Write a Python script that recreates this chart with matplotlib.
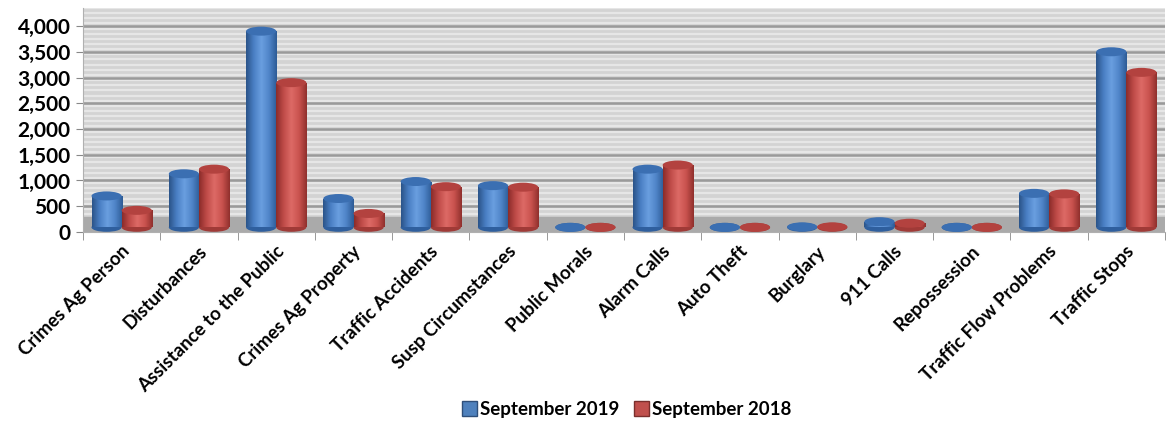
import numpy as np
import matplotlib
matplotlib.use("Agg")
import matplotlib.pyplot as plt
import matplotlib.transforms as mtransforms
from matplotlib.patches import Ellipse, Rectangle
from matplotlib.colors import LinearSegmentedColormap
from matplotlib.ticker import FuncFormatter

categories = ["Crimes Ag Person", "Disturbances", "Assistance to the Public",
              "Crimes Ag Property", "Traffic Accidents", "Susp Circumstances",
              "Public Morals", "Alarm Calls", "Auto Theft", "Burglary",
              "911 Calls", "Repossession", "Traffic Flow Problems", "Traffic Stops"]
sep_2019 = [700, 1130, 3900, 650, 980, 900, 90, 1220, 90, 100, 200, 60, 750, 3500]
sep_2018 = [420, 1220, 2900, 360, 880, 870, 80, 1300, 90, 100, 170, 50, 740, 3100]
series_names = ["September 2019", "September 2018"]
yticks = [0, 500, 1000, 1500, 2000, 2500, 3000, 3500, 4000]

plt.rcParams['font.family'] = ['Lato', 'DejaVu Sans']

fig = plt.figure(figsize=(11.69, 4.32), dpi=100)
ax = fig.add_axes([0.071, 0.463, 0.9256, 0.5185])

ymax = 4350
ax.set_xlim(0, len(categories))
ax.set_ylim(0, ymax)

# wall
ax.set_facecolor('#d3d3d3')
for v in np.arange(0, ymax, 100):
    ax.axhline(v + 50, color='#e6e6e6', lw=1.6, zorder=0.5)
for v in yticks:
    ax.axhline(v, color='#9a9a9a', lw=1.8, zorder=0.6)
# floor
ax.axhspan(0, 300, color='#aaaaaa', zorder=0.8)

px = ymax / (0.5185 * 432)  # data units per pixel (vertical)
ell_h = 9 * px
bw = 0.39

cmaps = {
    0: LinearSegmentedColormap.from_list('b', ['#2a5388', '#4a7fc4', '#6a9fe0', '#4f84c8', '#2c5b95']),
    1: LinearSegmentedColormap.from_list('r', ['#8a2b29', '#c04c49', '#dd6a66', '#c9524e', '#8f2f2c']),
}
tops = {0: '#3b6fb2', 1: '#b3423f'}
bots = {0: '#2f5f9e', 1: '#a03a37'}
grad = np.linspace(0, 1, 256).reshape(1, -1)

base = 90
for si, vals in enumerate([sep_2019, sep_2018]):
    for i, v in enumerate(vals):
        c = i + 0.5 + (si - 0.5) * bw
        x0 = c - bw / 2
        top = max(v, base)
        rect = Rectangle((x0, base), bw, top - base, facecolor='none', edgecolor='none', zorder=2)
        ax.add_patch(rect)
        im = ax.imshow(grad, extent=[x0, x0 + bw, base, top], aspect='auto',
                       cmap=cmaps[si], zorder=2, interpolation='bilinear')
        im.set_clip_path(rect)
        e_bot = Ellipse((c, base), bw, ell_h, facecolor=bots[si], edgecolor='none', zorder=1.9)
        ax.add_patch(e_bot)
        e_top = Ellipse((c, top), bw, ell_h, facecolor=tops[si], edgecolor='none', zorder=3)
        ax.add_patch(e_top)

ax.set_xlim(0, len(categories))
ax.set_ylim(0, ymax)

ax.set_yticks(yticks)
ax.yaxis.set_major_formatter(FuncFormatter(lambda v, p: f"{int(v):,}"))
ax.tick_params(axis='y', labelsize=15, length=5, color='#888888', pad=4)
for t in ax.get_yticklabels():
    t.set_fontweight('bold')

ax.set_xticks(np.arange(len(categories) + 1), minor=True)
ax.set_xticks(np.arange(len(categories)) + 0.5)
ax.set_xticklabels(categories, rotation=45, ha='right', va='center',
                   rotation_mode='anchor', fontsize=13.5, fontweight='bold')
ax.tick_params(axis='x', which='major', length=0, pad=12)
ax.tick_params(axis='x', which='minor', length=6, color='#888888')
shift = mtransforms.ScaledTranslation(5 / 100, 0, fig.dpi_scale_trans)
for t in ax.get_xticklabels():
    t.set_transform(t.get_transform() + shift)
ax.grid(False)

for s in ['top', 'right']:
    ax.spines[s].set_visible(False)
ax.spines['left'].set_color('#b0b0b0')
ax.spines['bottom'].set_color('#b0b0b0')

handles = [Rectangle((0, 0), 1, 1, facecolor='#4f81bd', edgecolor='#2f4f7a'),
           Rectangle((0, 0), 1, 1, facecolor='#c0504d', edgecolor='#7a2f2d')]
leg = fig.legend(handles, series_names, loc='center', bbox_to_anchor=(0.536, 0.052),
                 ncol=2, frameon=False, prop={'weight': 'bold', 'size': 13.5},
                 handlelength=0.8, handleheight=0.8, handletextpad=0.15, columnspacing=0.8)

fig.savefig('out.png', dpi=100)
